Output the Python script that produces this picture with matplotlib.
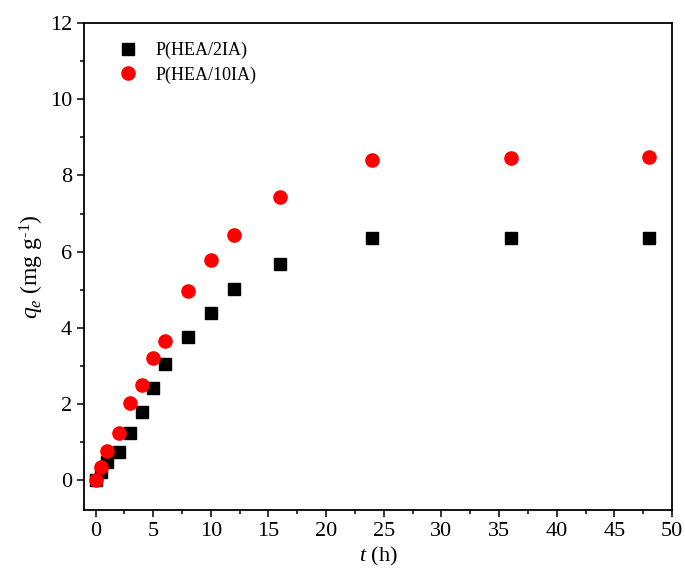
import matplotlib
matplotlib.use("Agg")
import matplotlib.pyplot as plt
from matplotlib.ticker import MultipleLocator

plt.rcParams["font.family"] = ["Liberation Serif", "DejaVu Serif"]
plt.rcParams["mathtext.fontset"] = "custom"
plt.rcParams["mathtext.rm"] = "Liberation Serif"
plt.rcParams["mathtext.it"] = "Liberation Serif:italic"

# contact time (h)
time_h = [0, 0.5, 1, 2, 3, 4, 5, 6, 8, 10, 12, 16, 24, 36, 48]
# adsorption capacity (mg/g)
q_2ia = [0, 0.21, 0.47, 0.73, 1.23, 1.78, 2.43, 3.06, 3.75, 4.39, 5.02, 5.67, 6.35, 6.35, 6.36]
q_10ia = [0, 0.34, 0.78, 1.25, 2.04, 2.51, 3.22, 3.66, 4.97, 5.78, 6.43, 7.43, 8.40, 8.45, 8.48]

fig = plt.figure(figsize=(6.85, 5.79), dpi=100)
ax = fig.add_axes([0.1226, 0.1192, 0.8584, 0.8411])

ax.plot(time_h, q_2ia, "s", color="black", ms=8.5, label="P(HEA/2IA)", zorder=3)
ax.plot(time_h, q_10ia, "o", color="red", ms=9.5, label="P(HEA/10IA)", zorder=3)

ax.set_xlim(-1, 50)
ax.set_ylim(-0.78, 12)
ax.xaxis.set_major_locator(MultipleLocator(5))
ax.xaxis.set_minor_locator(MultipleLocator(2.5))
ax.yaxis.set_major_locator(MultipleLocator(2))
ax.yaxis.set_minor_locator(MultipleLocator(1))
ax.tick_params(which="both", direction="out", width=1.1, labelsize=16)
ax.tick_params(which="major", length=5)
ax.tick_params(which="minor", length=3)
for s in ax.spines.values():
    s.set_linewidth(1.3)

ax.set_xlabel(r"$t$ (h)", fontsize=16, labelpad=3)
ax.set_ylabel(r"$q_e$ (mg g$^{\text{-}1}$)", fontsize=17, labelpad=3)

ax.legend(loc="upper left", bbox_to_anchor=(0.032, 0.995), frameon=False,
          fontsize=13, handletextpad=1.0, labelspacing=0.4, handlelength=1.0)

fig.savefig("out.png", dpi=100)
